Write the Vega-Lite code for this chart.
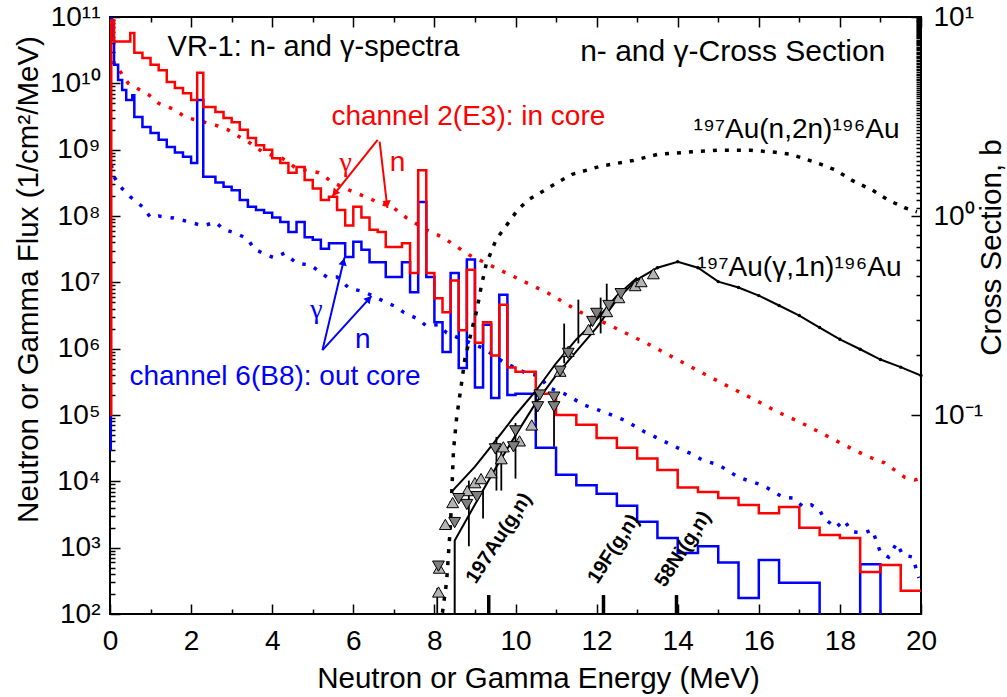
{
  "$schema": "https://vega.github.io/schema/vega-lite/v6.json",
  "width": 811,
  "height": 597,
  "autosize": {"type": "none"},
  "padding": {"left": 110, "top": 17, "right": 86, "bottom": 83},
  "background": "white",
  "config": {
    "font": "Liberation Sans",
    "view": {"stroke": "#000000", "strokeWidth": 2},
    "axis": {"grid": false, "domain": false, "tickColor": "#000000", "tickWidth": 1.5, "labelColor": "#000000", "labelFont": "Liberation Sans", "labelFontSize": 28, "titleFont": "Liberation Sans", "titleFontSize": 29.5, "titleFontWeight": "normal", "titleColor": "#000000"}
  },
  "datasets": {
    "redG": [{"E":0,"F":1e5},{"E":0.03,"F":8.9e10},{"E":0.1,"F":4.27e10},{"E":0.5,"F":5.75e10},{"E":0.6,"F":2.88e10},{"E":0.8,"F":2.4e10},{"E":1.0,"F":1.9e10},{"E":1.2,"F":1.58e10},{"E":1.4,"F":1.05e10},{"E":1.6,"F":8.5e9},{"E":1.8,"F":7.1e9},{"E":2.0,"F":5.6e9},{"E":2.15,"F":1.45e10},{"E":2.3,"F":4.4e9},{"E":2.6,"F":3.7e9},{"E":2.8,"F":3.0e9},{"E":3.0,"F":2.6e9},{"E":3.2,"F":2.0e9},{"E":3.4,"F":1.5e9},{"E":3.6,"F":1.17e9},{"E":3.8,"F":1.0e9},{"E":4.0,"F":7.4e8},{"E":4.2,"F":6.3e8},{"E":4.4,"F":4.5e8},{"E":4.6,"F":5.5e8},{"E":4.8,"F":3.5e8},{"E":5.0,"F":2.6e8},{"E":5.2,"F":1.74e8},{"E":5.4,"F":1.95e8},{"E":5.6,"F":1.23e8},{"E":5.8,"F":7.2e7},{"E":6.0,"F":1.38e8},{"E":6.2,"F":9.5e7},{"E":6.4,"F":6.2e7},{"E":6.6,"F":5.75e7},{"E":6.8,"F":3.4e7},{"E":7.2,"F":3.9e7},{"E":7.4,"F":1.38e7},{"E":7.6,"F":4.9e8},{"E":7.8,"F":1.38e7},{"E":8.0,"F":5.75e6},{"E":8.2,"F":3.55e6},{"E":8.4,"F":1.07e7},{"E":8.6,"F":1.9e6},{"E":8.8,"F":1.55e7},{"E":9.0,"F":1.23e6},{"E":9.2,"F":2.5e6},{"E":9.4,"F":7.9e5},{"E":9.6,"F":4.6e6},{"E":9.8,"F":5.2e5},{"E":10.0,"F":4.5e5},{"E":10.5,"F":2.1e5},{"E":11.0,"F":1.0e5},{"E":11.5,"F":7.1e4},{"E":12.0,"F":4.5e4},{"E":12.5,"F":3.2e4},{"E":13.0,"F":2.2e4},{"E":13.5,"F":1.48e4},{"E":14.0,"F":8.1e3},{"E":14.5,"F":6.9e3},{"E":15.0,"F":5.6e3},{"E":15.5,"F":4.4e3},{"E":16.0,"F":3.3e3},{"E":16.5,"F":4.1e3},{"E":17.0,"F":2.0e3},{"E":17.5,"F":1.55e3},{"E":18.0,"F":1.4e3},{"E":18.5,"F":430},{"E":19.0,"F":550},{"E":19.5,"F":224},{"E":20.0,"F":224}],
    "blueG": [{"E":0,"F":3e4},{"E":0.02,"F":1e11},{"E":0.05,"F":4.5e10},{"E":0.1,"F":1.9e10},{"E":0.2,"F":1.12e10},{"E":0.3,"F":7.9e9},{"E":0.4,"F":5.6e9},{"E":0.55,"F":6.6e9},{"E":0.6,"F":3.1e9},{"E":0.8,"F":2.2e9},{"E":1.0,"F":1.78e9},{"E":1.2,"F":1.41e9},{"E":1.4,"F":1.1e9},{"E":1.6,"F":9.1e8},{"E":1.8,"F":7.8e8},{"E":2.0,"F":6.3e8},{"E":2.15,"F":5.6e9},{"E":2.3,"F":3.9e8},{"E":2.6,"F":3.2e8},{"E":2.8,"F":2.75e8},{"E":3.0,"F":2.45e8},{"E":3.2,"F":1.74e8},{"E":3.4,"F":1.38e8},{"E":3.6,"F":1.23e8},{"E":3.8,"F":1.12e8},{"E":4.0,"F":9.5e7},{"E":4.2,"F":8.1e7},{"E":4.4,"F":5.75e7},{"E":4.6,"F":8.1e7},{"E":4.8,"F":4.8e7},{"E":5.0,"F":4.4e7},{"E":5.2,"F":3.2e7},{"E":5.4,"F":3.9e7},{"E":5.8,"F":2.4e7},{"E":6.0,"F":4.1e7},{"E":6.2,"F":3.1e7},{"E":6.4,"F":2.0e7},{"E":6.8,"F":1.2e7},{"E":7.2,"F":2.0e7},{"E":7.4,"F":7.1e6},{"E":7.6,"F":1.62e8},{"E":7.8,"F":1.2e7},{"E":8.0,"F":2.5e6},{"E":8.2,"F":8.9e5},{"E":8.4,"F":1.38e7},{"E":8.6,"F":5.1e5},{"E":8.8,"F":2.2e7},{"E":9.0,"F":2.6e5},{"E":9.2,"F":2.3e6},{"E":9.4,"F":1.8e5},{"E":9.6,"F":6.5e6},{"E":9.8,"F":2.0e5},{"E":10.0,"F":2.1e5},{"E":10.5,"F":3.2e4},{"E":11.0,"F":1.26e4},{"E":11.5,"F":8.7e3},{"E":12.0,"F":6.5e3},{"E":12.5,"F":4.3e3},{"E":13.0,"F":2.45e3},{"E":13.5,"F":1.4e3},{"E":14.0,"F":830},{"E":14.5,"F":1050},{"E":15.0,"F":600},{"E":15.5,"F":174},{"E":16.0,"F":650},{"E":16.5,"F":295},{"E":17.5,"F":10},{"E":18.5,"F":560},{"E":19.0,"F":10},{"E":20.0,"F":10}],
    "redN": [{"E":0.07,"F":2.2e10},{"E":0.45,"F":1e10},{"E":0.97,"F":6.6e9},{"E":1.2,"F":5e9},{"E":1.6,"F":4e9},{"E":1.85,"F":3.1e9},{"E":2.6,"F":2.35e9},{"E":2.9,"F":2e9},{"E":3.2,"F":1.55e9},{"E":3.45,"F":1.26e9},{"E":3.8,"F":8.9e8},{"E":4.25,"F":7.4e8},{"E":4.6,"F":5.2e8},{"E":5.15,"F":4.5e8},{"E":5.5,"F":3.2e8},{"E":5.9,"F":2.45e8},{"E":6.3,"F":1.95e8},{"E":6.6,"F":1.62e8},{"E":7.0,"F":1.32e8},{"E":7.3,"F":9.5e7},{"E":7.8,"F":6.2e7},{"E":8.2,"F":4.8e7},{"E":8.85,"F":2.6e7},{"E":9.6,"F":1.55e7},{"E":10.25,"F":1e7},{"E":10.8,"F":6.9e6},{"E":11.6,"F":3.55e6},{"E":12.2,"F":2.45e6},{"E":12.7,"F":1.74e6},{"E":13.3,"F":1.15e6},{"E":14.0,"F":6.8e5},{"E":14.55,"F":4.5e5},{"E":15.1,"F":3.0e5},{"E":15.6,"F":2.1e5},{"E":15.9,"F":1.7e5},{"E":16.45,"F":1.12e5},{"E":17.0,"F":7.9e4},{"E":17.5,"F":5.5e4},{"E":18.1,"F":3.55e4},{"E":18.7,"F":2.35e4},{"E":19.1,"F":1.9e4},{"E":19.6,"F":1.15e4},{"E":19.85,"F":1.05e4},{"E":20.0,"F":1.12e4}],
    "blueN": [{"E":0.03,"F":5.9e8},{"E":0.1,"F":3.9e8},{"E":0.26,"F":2.75e8},{"E":0.5,"F":1.95e8},{"E":0.8,"F":1.38e8},{"E":1.0,"F":9.5e7},{"E":1.2,"F":1e8},{"E":1.57,"F":9.3e7},{"E":1.9,"F":8.3e7},{"E":2.3,"F":7.1e7},{"E":2.6,"F":8.1e7},{"E":2.8,"F":6.3e7},{"E":3.1,"F":5.5e7},{"E":3.4,"F":4.5e7},{"E":3.55,"F":3.2e7},{"E":3.85,"F":2.6e7},{"E":4.05,"F":2.35e7},{"E":4.3,"F":2.75e7},{"E":4.6,"F":1.95e7},{"E":4.95,"F":1.82e7},{"E":5.1,"F":1.55e7},{"E":5.35,"F":1.2e7},{"E":5.6,"F":1.2e7},{"E":5.9,"F":8.1e6},{"E":6.2,"F":7.4e6},{"E":6.5,"F":6.2e6},{"E":6.8,"F":5e6},{"E":7.05,"F":4.3e6},{"E":7.25,"F":3.5e6},{"E":7.6,"F":2.8e6},{"E":7.8,"F":2.2e6},{"E":8.1,"F":2.3e6},{"E":8.3,"F":1.74e6},{"E":8.6,"F":1.45e6},{"E":9.2,"F":1.02e6},{"E":9.7,"F":6.3e5},{"E":10.25,"F":4.3e5},{"E":10.6,"F":3.9e5},{"E":10.8,"F":2.6e5},{"E":11.2,"F":2.1e5},{"E":11.7,"F":1.41e5},{"E":12.2,"F":1.1e5},{"E":12.7,"F":8.3e4},{"E":13.2,"F":5.5e4},{"E":13.6,"F":4.2e4},{"E":14.0,"F":3.2e4},{"E":14.4,"F":2.5e4},{"E":14.6,"F":2.1e4},{"E":15.0,"F":1.78e4},{"E":15.5,"F":1.15e4},{"E":16.1,"F":8.7e3},{"E":16.6,"F":5.75e3},{"E":16.85,"F":5.6e3},{"E":17.1,"F":4.1e3},{"E":17.3,"F":4.4e3},{"E":17.5,"F":3.7e3},{"E":17.6,"F":2.8e3},{"E":17.9,"F":2.0e3},{"E":18.1,"F":2.6e3},{"E":18.3,"F":1.74e3},{"E":18.6,"F":1.66e3},{"E":18.8,"F":1.86e3},{"E":19.0,"F":850},{"E":19.2,"F":720},{"E":19.4,"F":1170},{"E":19.55,"F":780},{"E":19.8,"F":720},{"E":19.9,"F":430},{"E":19.95,"F":350}],
    "n2n": [{"E":8.1,"S":0.0089},{"E":8.2,"S":0.0102},{"E":8.3,"S":0.0145},{"E":8.35,"S":0.0204},{"E":8.4,"S":0.0288},{"E":8.43,"S":0.0417},{"E":8.47,"S":0.066},{"E":8.55,"S":0.098},{"E":8.65,"S":0.135},{"E":8.75,"S":0.19},{"E":8.9,"S":0.257},{"E":9.05,"S":0.339},{"E":9.15,"S":0.437},{"E":9.28,"S":0.575},{"E":9.52,"S":0.76},{"E":9.8,"S":0.91},{"E":10.05,"S":1.07},{"E":10.3,"S":1.2},{"E":10.8,"S":1.38},{"E":11.05,"S":1.48},{"E":11.4,"S":1.62},{"E":12.1,"S":1.78},{"E":12.9,"S":1.9},{"E":13.5,"S":2.04},{"E":14.2,"S":2.09},{"E":15.0,"S":2.14},{"E":15.8,"S":2.14},{"E":16.4,"S":2.09},{"E":16.8,"S":2.04},{"E":17.4,"S":1.86},{"E":17.9,"S":1.7},{"E":18.3,"S":1.51},{"E":18.8,"S":1.35},{"E":19.2,"S":1.2},{"E":19.6,"S":1.1},{"E":19.9,"S":1.05}],
    "g1n": [{"E":8.5,"S":0.005},{"E":8.501,"S":0.0234},{"E":9.0,"S":0.0355},{"E":9.5,"S":0.0537},{"E":10.0,"S":0.079},{"E":10.5,"S":0.115},{"E":11.0,"S":0.158},{"E":11.5,"S":0.209},{"E":12.0,"S":0.275},{"E":12.5,"S":0.38},{"E":13.0,"S":0.479},{"E":13.5,"S":0.55},{"E":14.0,"S":0.589},{"E":14.5,"S":0.55},{"E":15.0,"S":0.468},{"E":15.5,"S":0.437},{"E":16.0,"S":0.398},{"E":16.5,"S":0.355},{"E":17.0,"S":0.316},{"E":17.5,"S":0.275},{"E":18.0,"S":0.24},{"E":18.5,"S":0.214},{"E":19.0,"S":0.19},{"E":19.5,"S":0.174},{"E":20.0,"S":0.158}],
    "g1nB": [{"E":8.45,"S":0.0417},{"E":9.0,"S":0.055},{"E":9.5,"S":0.074},{"E":10.0,"S":0.1},{"E":10.5,"S":0.132},{"E":11.0,"S":0.182},{"E":11.5,"S":0.24},{"E":12.0,"S":0.302},{"E":12.5,"S":0.398},{"E":13.0,"S":0.49}],
    "triUp": [{"E":8.1,"S":0.0129},{"E":8.12,"S":0.017},{"E":8.27,"S":0.0282},{"E":8.45,"S":0.0363},{"E":8.81,"S":0.0417},{"E":9.0,"S":0.0457},{"E":9.15,"S":0.0479},{"E":9.4,"S":0.0513},{"E":9.65,"S":0.0603},{"E":9.7,"S":0.0692},{"E":10.1,"S":0.0741},{"E":10.4,"S":0.0891},{"E":11.1,"S":0.166},{"E":11.3,"S":0.209},{"E":11.8,"S":0.269},{"E":12.25,"S":0.331},{"E":12.55,"S":0.389},{"E":12.95,"S":0.447},{"E":13.1,"S":0.468},{"E":13.4,"S":0.513}],
    "triDown": [{"E":8.1,"S":0.0174},{"E":8.5,"S":0.0288},{"E":8.6,"S":0.038},{"E":8.8,"S":0.0355},{"E":9.05,"S":0.0389},{"E":9.5,"S":0.0676},{"E":9.95,"S":0.0692},{"E":10.0,"S":0.0832},{"E":10.55,"S":0.11},{"E":10.6,"S":0.126},{"E":10.95,"S":0.11},{"E":10.95,"S":0.123},{"E":11.1,"S":0.166},{"E":11.3,"S":0.204},{"E":11.9,"S":0.295},{"E":12.0,"S":0.324},{"E":12.3,"S":0.355},{"E":12.6,"S":0.407}],
    "errs": [{"E":8.07,"S":0.0089,"hi":0.0135},{"E":8.85,"S":0.0219,"hi":0.0468},{"E":9.2,"S":0.0302,"hi":0.0417},{"E":9.53,"S":0.0417,"hi":0.0776},{"E":9.65,"S":0.0417,"hi":0.066},{"E":10.0,"S":0.0479,"hi":0.0912},{"E":10.5,"S":0.0933,"hi":0.135},{"E":10.95,"S":0.0692,"hi":0.123},{"E":11.2,"S":0.182,"hi":0.288},{"E":11.55,"S":0.229,"hi":0.38},{"E":12.1,"S":0.257,"hi":0.389},{"E":12.25,"S":0.324,"hi":0.457}],
    "thr": [{"E":9.34,"F":100,"F2":193},{"E":12.17,"F":100,"F2":193},{"E":13.97,"F":100,"F2":193}],
    "thrText": [{"E":9.02,"F":275,"label":"197Au(g,n)"},{"E":12.02,"F":275,"label":"19F(g,n)"},{"E":13.68,"F":245,"label":"58Ni(g,n)"}],
    "txtL": [{"E":1.42,"F":3.55e10,"label":"VR-1: n- and γ-spectra"}],
    "txtR": [{"E":19.12,"F":2.95e10,"label":"n- and γ-Cross Section"}],
    "txtAu": [{"E":19.47,"F":2.0e9,"label":"¹⁹⁷Au(n,2n)¹⁹⁶Au"},{"E":19.52,"F":1.66e7,"label":"¹⁹⁷Au(γ,1n)¹⁹⁶Au"}],
    "txtRed": [{"E":5.46,"F":3.09e9,"label":"channel 2(E3): in core"},{"E":6.9,"F":6.3e8,"label":"n"}],
    "gamRed": [{"E":5.66,"F":6.3e8,"label":"γ"}],
    "txtBlue": [{"E":0.48,"F":3.7e5,"label":"channel 6(B8): out core"},{"E":6.04,"F":1.35e6,"label":"n"}],
    "gamBlue": [{"E":4.94,"F":3.8e6,"label":"γ"}],
    "arrRed": [{"E":6.6,"F":1.41e9,"E2":5.49,"F2":2e8},{"E":6.65,"F":1.32e9,"E2":6.84,"F2":1.32e8}],
    "arrBlue": [{"E":5.24,"F":9.5e5,"E2":5.78,"F2":2.35e7},{"E":5.24,"F":9.5e5,"E2":6.45,"F2":6.2e6}]
  },
  "resolve": {"scale": {"y": "independent"}, "axis": {"x": "independent", "y": "independent"}},
  "layer": [
    {
      "encoding": {
        "x": {"field": "E", "type": "quantitative", "scale": {"domain": [0, 20], "nice": false, "zero": false},
          "axis": {"orient": "bottom", "values": [0,1,2,3,4,5,6,7,8,9,10,11,12,13,14,15,16,17,18,19,20], "labelExpr": "datum.value % 2 === 0 ? datum.label : ''", "tickSize": {"condition": {"test": "datum.value % 2 === 0", "value": -10}, "value": -5}, "labelPadding": 23, "labelFlush": false, "labelOverlap": false, "title": "Neutron or Gamma Energy  (MeV)", "titleX": 428, "titleY": 73, "titleAlign": "center", "titleBaseline": "alphabetic"}},
        "y": {"field": "F", "type": "quantitative", "scale": {"type": "log", "domain": [100, 1e11], "nice": false},
          "axis": {"orient": "left", "tickCount": 100, "labelOverlap": false, "labelExpr": "abs(datum.value/pow(10,round(log(datum.value)/LN10))-1)<1e-6 ? '10' + (round(log(datum.value)/LN10) >= 10 ? '¹' : '') + ['⁰','¹','²','³','⁴','⁵','⁶','⁷','⁸','⁹'][round(log(datum.value)/LN10) % 10] : ''", "tickSize": {"condition": {"test": "abs(datum.value/pow(10,round(log(datum.value)/LN10))-1)<1e-6", "value": -10}, "value": -5}, "labelPadding": 20, "labelFlush": false, "title": "Neutron or Gamma Flux  (1/cm²/MeV)", "titleAngle": 270, "titleX": -82, "titleY": 262, "titleAlign": "center", "titleBaseline": "middle"}}
      },
      "layer": [
        {"data": {"name": "redN"}, "mark": {"type": "line", "color": "#FF0000", "strokeWidth": 3.5, "strokeDash": [3.5, 9], "clip": true}},
        {"data": {"name": "blueN"}, "mark": {"type": "line", "color": "#0000FF", "strokeWidth": 3.5, "strokeDash": [3.5, 9], "clip": true}},
        {"data": {"name": "blueG"}, "mark": {"type": "line", "interpolate": "step-after", "color": "#0000FF", "strokeWidth": 2.5, "clip": true}},
        {"data": {"name": "redG"}, "mark": {"type": "line", "interpolate": "step-after", "color": "#FF0000", "strokeWidth": 2.5, "clip": true}},
        {"data": {"name": "thr"}, "mark": {"type": "rule", "color": "#000000", "strokeWidth": 3.5}, "encoding": {"y2": {"field": "F2"}}},
        {"data": {"name": "thrText"}, "mark": {"type": "text", "align": "left", "baseline": "alphabetic", "angle": 303, "fontSize": 20, "fontWeight": "bold", "color": "#000000"}, "encoding": {"text": {"field": "label"}}},
        {"data": {"name": "txtL"}, "mark": {"type": "text", "align": "left", "baseline": "middle", "fontSize": 29, "color": "#000000"}, "encoding": {"text": {"field": "label"}}},
        {"data": {"name": "txtR"}, "mark": {"type": "text", "align": "right", "baseline": "middle", "fontSize": 30, "color": "#000000"}, "encoding": {"text": {"field": "label"}}},
        {"data": {"name": "txtAu"}, "mark": {"type": "text", "align": "right", "baseline": "middle", "fontSize": 28, "color": "#000000"}, "encoding": {"text": {"field": "label"}}},
        {"data": {"name": "txtRed"}, "mark": {"type": "text", "align": "left", "baseline": "middle", "fontSize": 28, "color": "#FF0000"}, "encoding": {"text": {"field": "label"}}},
        {"data": {"name": "gamRed"}, "mark": {"type": "text", "align": "left", "baseline": "middle", "fontSize": 28, "font": "Liberation Serif", "color": "#FF0000"}, "encoding": {"text": {"field": "label"}}},
        {"data": {"name": "txtBlue"}, "mark": {"type": "text", "align": "left", "baseline": "middle", "fontSize": 28, "color": "#0000FF"}, "encoding": {"text": {"field": "label"}}},
        {"data": {"name": "gamBlue"}, "mark": {"type": "text", "align": "left", "baseline": "middle", "fontSize": 28, "font": "Liberation Serif", "color": "#0000FF"}, "encoding": {"text": {"field": "label"}}},
        {"data": {"name": "arrRed"}, "mark": {"type": "rule", "color": "#FF0000", "strokeWidth": 2}, "encoding": {"x2": {"field": "E2"}, "y2": {"field": "F2"}}},
        {"data": {"name": "arrBlue"}, "mark": {"type": "rule", "color": "#0000FF", "strokeWidth": 2}, "encoding": {"x2": {"field": "E2"}, "y2": {"field": "F2"}}},
        {"data": {"values": [{"E": 5.56, "F": 2.29e8}]}, "mark": {"type": "point", "shape": "triangle", "filled": true, "opacity": 1, "size": 70, "angle": 219, "color": "#FF0000"}},
        {"data": {"values": [{"E": 6.83, "F": 1.57e8}]}, "mark": {"type": "point", "shape": "triangle", "filled": true, "opacity": 1, "size": 70, "angle": 173, "color": "#FF0000"}},
        {"data": {"values": [{"E": 5.75, "F": 1.96e7}]}, "mark": {"type": "point", "shape": "triangle", "filled": true, "opacity": 1, "size": 70, "angle": 13, "color": "#0000FF"}},
        {"data": {"values": [{"E": 6.365, "F": 5.47e6}]}, "mark": {"type": "point", "shape": "triangle", "filled": true, "opacity": 1, "size": 70, "angle": 42, "color": "#0000FF"}}
      ]
    },
    {
      "encoding": {
        "x": {"field": "E", "type": "quantitative", "scale": {"domain": [0, 20], "nice": false, "zero": false},
          "axis": {"orient": "top", "values": [0,1,2,3,4,5,6,7,8,9,10,11,12,13,14,15,16,17,18,19,20], "labels": false, "tickSize": {"condition": {"test": "datum.value % 2 === 0", "value": -10}, "value": -5}, "title": null}},
        "y": {"field": "S", "type": "quantitative", "scale": {"type": "log", "domain": [0.01, 10], "nice": false},
          "axis": {"orient": "right", "tickCount": 100, "labelOverlap": false, "labelExpr": "abs(datum.value/pow(10,round(log(datum.value)/LN10))-1)<1e-6 ? '10' + (round(log(datum.value)/LN10) < 0 ? '⁻' : '') + ['⁰','¹','²','³','⁴','⁵','⁶','⁷','⁸','⁹'][abs(round(log(datum.value)/LN10))] : ''", "tickSize": {"condition": {"test": "abs(datum.value/pow(10,round(log(datum.value)/LN10))-1)<1e-6", "value": -10}, "value": -5}, "labelPadding": 22, "labelFlush": false, "title": "Cross Section,  b", "titleAngle": 270, "titleX": 70, "titleY": 230, "titleAlign": "center", "titleBaseline": "middle"}}
      },
      "layer": [
        {"data": {"name": "n2n"}, "mark": {"type": "line", "color": "#000000", "strokeWidth": 3.5, "strokeDash": [4, 8], "clip": true}},
        {"data": {"name": "g1n"}, "mark": {"type": "line", "color": "#000000", "strokeWidth": 2, "clip": true}},
        {"data": {"name": "g1n"}, "transform": [{"filter": "datum.E >= 13"}], "mark": {"type": "point", "filled": true, "color": "#000000", "size": 12, "opacity": 1}},
        {"data": {"name": "g1nB"}, "mark": {"type": "line", "color": "#000000", "strokeWidth": 2, "clip": true}},
        {"data": {"name": "errs"}, "mark": {"type": "rule", "color": "#000000", "strokeWidth": 1.8, "clip": true}, "encoding": {"y2": {"field": "hi"}}},
        {"data": {"name": "triUp"}, "mark": {"type": "point", "shape": "triangle-up", "filled": true, "fill": "#B4B4B4", "stroke": "#000000", "strokeWidth": 1, "size": 140, "opacity": 1}},
        {"data": {"name": "triDown"}, "mark": {"type": "point", "shape": "triangle-down", "filled": true, "fill": "#7F7F7F", "stroke": "#000000", "strokeWidth": 1, "size": 140, "opacity": 1}}
      ]
    }
  ]
}
